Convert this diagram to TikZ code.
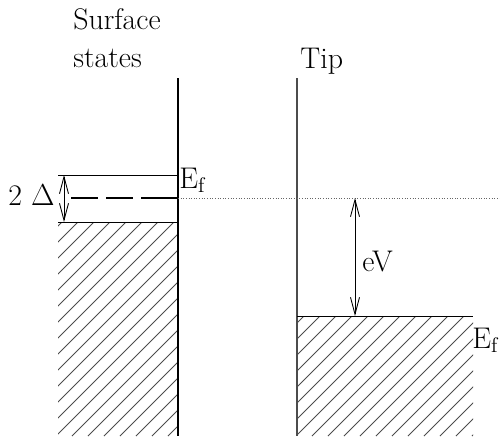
\documentclass[tikz,border=0pt]{standalone}
\usetikzlibrary{arrows.meta}
\begin{document}
\begin{tikzpicture}[x=0.2mm, y=-0.2mm,
    font=\fontsize{17}{22}\selectfont,
    lbl/.style={inner sep=0pt},
    wall/.style={line width=0.6pt},
    hatch/.style={line width=0.45pt, black!70},
    level/.style={line width=0.5pt},
    dimarrow/.style={line width=0.5pt, {Straight Barb[length=3.4mm,width=1.8mm]}-{Straight Barb[length=3.4mm,width=1.8mm]}}]
  \useasboundingbox (0,0) rectangle (500,439);

  % labels
  \node[lbl, anchor=north west, align=left] (surf) at (73,8) {Surface\\states};
  \node[lbl, anchor=north west] (tip) at (300,48) {Tip};

  % sample: surface wall and filled states
  \begin{scope}
    \clip (58,222) rectangle (178,436);
    \foreach \x in {-200,-184,...,180}
      \draw[hatch] (\x,436) -- ++(230,-230);
  \end{scope}
  \draw[wall] (178,78) -- (178,436);
  \draw[level] (58,175) -- (178,175);
  \draw[level] (58,222) -- (178,222);
  \draw[line width=1.7pt, dash pattern=on 5.4mm off 1.6mm on 5.4mm off 1.6mm on 8mm] (71,198) -- (178,198);

  % tip wall and filled states
  \begin{scope}
    \clip (297,316) rectangle (473,436);
    \foreach \x in {-200,-184,...,480}
      \draw[hatch] (\x,436) -- ++(230,-230);
  \end{scope}
  \draw[wall, black!70] (297,78) -- (297,436);
  \draw[level] (297,316) -- (473,316);

  % Fermi level of sample
  \draw[densely dotted, black!60, line width=0.5pt] (178,198) -- (500,198);

  % gap and bias
  \coordinate (gtop) at (64,175);
  \coordinate (gbot) at (64,222);
  \draw[dimarrow] (gtop) -- (gbot);
  \node[lbl, anchor=base east] (gap) at (55,205) {2 $\Delta$};

  \coordinate (vtop) at (355,198);
  \coordinate (vbot) at (355,316);
  \draw[dimarrow] (vtop) -- (vbot);
  \node[lbl, anchor=west] (ev) at (362,262) {eV};

  \node[lbl, anchor=base west] (efs) at (179,188) {E$_{\mathrm{f}}$};
  \node[lbl, anchor=base west] (eft) at (472,348) {E$_{\mathrm{f}}$};
\end{tikzpicture}
\end{document}
